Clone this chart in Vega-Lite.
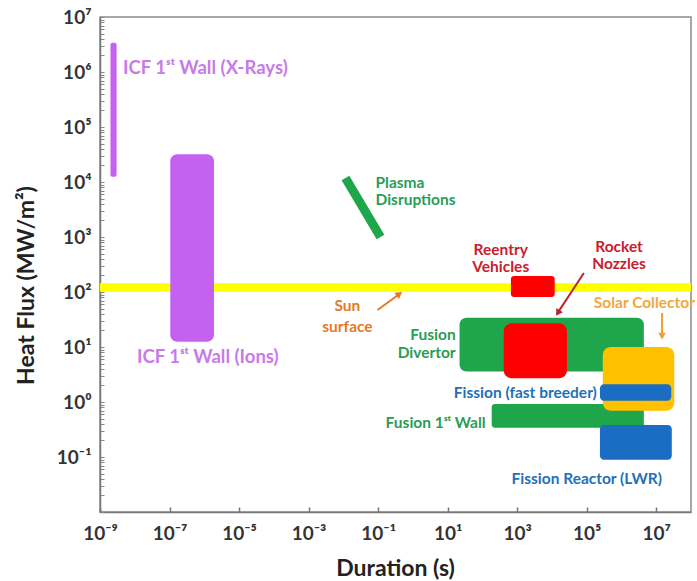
{
  "$schema": "https://vega.github.io/schema/vega-lite/v6.json",
  "width": 591,
  "height": 495,
  "autosize": {"type": "none"},
  "padding": {"left": 100, "top": 17, "right": 6, "bottom": 69},
  "background": "white",
  "config": {
    "view": {"stroke": "#8a8a8a", "strokeWidth": 1.5},
    "font": "Lato"
  },
  "datasets": {
    "regions": [
      {"name": "Sun surface", "x": 1e-9, "x2": 1e8, "y": 101, "y2": 144, "kind": "yellow"},
      {"name": "ICF 1st Wall (X-Rays)", "x": 2.0e-9, "x2": 3.0e-9, "y": 12400, "y2": 3400000, "kind": "purple"},
      {"name": "ICF 1st Wall (Ions)", "x": 1.05e-7, "x2": 1.9e-6, "y": 12.4, "y2": 32000, "kind": "purple"},
      {"name": "Fusion Divertor", "x": 22, "x2": 4400000, "y": 3.6, "y2": 34, "kind": "green"},
      {"name": "Fusion 1st Wall", "x": 185, "x2": 4400000, "y": 0.34, "y2": 0.92, "kind": "green"},
      {"name": "Reentry Vehicles", "x": 660, "x2": 12000, "y": 81, "y2": 195, "kind": "red"},
      {"name": "Rocket Nozzles", "x": 410, "x2": 27000, "y": 2.7, "y2": 27, "kind": "red"},
      {"name": "Solar Collector", "x": 290000, "x2": 33000000, "y": 0.69, "y2": 10, "kind": "gold"},
      {"name": "Fission (fast breeder)", "x": 240000, "x2": 27000000, "y": 1.05, "y2": 2.1, "kind": "blue"},
      {"name": "Fission Reactor (LWR)", "x": 240000, "x2": 28000000, "y": 0.089, "y2": 0.38, "kind": "blue"}
    ],
    "plasma": [
      {"name": "Plasma Disruptions", "x": 0.0115, "y": 11800, "x2": 0.117, "y2": 1000, "kind": "green"}
    ],
    "arrows": [
      {"name": "rocket", "x": 83000, "y": 221, "x2": 14000, "y2": 40, "kind": "arrowred"},
      {"name": "sun", "x": 0.096, "y": 47, "x2": 0.45, "y2": 96, "kind": "arroworange"},
      {"name": "solar", "x": 14700000, "y": 41.5, "x2": 14700000, "y2": 15, "kind": "arrowgold"}
    ],
    "heads": [
      {"name": "rocket", "x": 14800, "y": 41.5, "kind": "arrowred"},
      {"name": "sun", "x": 0.41, "y": 92, "kind": "arroworange"},
      {"name": "solar", "x": 14700000, "y": 15.8, "kind": "arrowgold"}
    ],
    "labelsICF": [
      {"text": ["ICF  1ˢᵗ Wall (X-Rays)"], "x": 4.6e-9, "y": 1180000, "kind": "purple"},
      {"text": ["ICF  1ˢᵗ Wall (Ions)"], "x": 1.16e-8, "y": 6.6, "kind": "purple"}
    ],
    "labelsLeft": [
      {"text": ["Plasma", "Disruptions"], "x": 0.084, "y": 9600, "kind": "green"},
      {"text": ["Solar Collector"], "x": 160000, "y": 63, "kind": "gold"}
    ],
    "labelsCenter": [
      {"text": ["Sun"], "x": 0.0131, "y": 55.6, "kind": "orange"},
      {"text": ["surface"], "x": 0.0131, "y": 23.1, "kind": "orange"},
      {"text": ["Reentry", "Vehicles"], "x": 337, "y": 580, "kind": "red"},
      {"text": ["Rocket", "Nozzles"], "x": 850000, "y": 660, "kind": "red"},
      {"text": ["Fission Reactor (LWR)"], "x": 100000, "y": 0.04, "kind": "blue"}
    ],
    "labelsRight": [
      {"text": ["Fusion", "Divertor"], "x": 17, "y": 16.5, "kind": "green"},
      {"text": ["Fission (fast breeder)"], "x": 196000, "y": 1.46, "kind": "blue"},
      {"text": ["Fusion 1ˢᵗ Wall"], "x": 124, "y": 0.415, "kind": "green"}
    ]
  },
  "encoding": {
    "x": {
      "field": "x",
      "type": "quantitative",
      "scale": {"type": "log", "domain": [1e-9, 1e8], "nice": false},
      "axis": {
        "title": "Duration (s)",
        "titleFont": "Lato",
        "titleFontSize": 23,
        "titleFontWeight": "bold",
        "titleColor": "#222",
        "titleX": 295,
        "titleY": 56,
        "titleBaseline": "middle",
        "grid": false,
        "values": [1e-9, 1e-7, 1e-5, 1e-3, 1e-1, 10, 1000, 100000, 10000000],
        "labelExpr": "'10' + (round(log(datum.value)/LN10) < 0 ? '⁻' : '') + substring('⁰¹²³⁴⁵⁶⁷⁸⁹', abs(round(log(datum.value)/LN10)), abs(round(log(datum.value)/LN10)) + 1)",
        "labelFont": "Lato",
        "labelFontSize": 19,
        "labelFontWeight": "bold",
        "labelColor": "#333",
        "labelPadding": 17,
        "labelOverlap": false,
        "labelFlush": false,
        "tickSize": -5,
        "tickColor": "#777",
        "tickWidth": 1.5,
        "domainColor": "#777",
        "domainWidth": 1.5
      }
    },
    "y": {
      "field": "y",
      "type": "quantitative",
      "scale": {"type": "log", "domain": [0.01, 10000000], "nice": false},
      "axis": {
        "title": "Heat Flux (MW/m²)",
        "titleFont": "Lato",
        "titleFontSize": 23,
        "titleFontWeight": "bold",
        "titleColor": "#222",
        "titleX": -74,
        "titleY": 268,
        "titleBaseline": "middle",
        "grid": false,
        "values": [0.01,0.02,0.03,0.04,0.05,0.06,0.07,0.08,0.09,0.1,0.2,0.3,0.4,0.5,0.6,0.7,0.8,0.9,1,2,3,4,5,6,7,8,9,10,20,30,40,50,60,70,80,90,100,200,300,400,500,600,700,800,900,1000,2000,3000,4000,5000,6000,7000,8000,9000,10000,20000,30000,40000,50000,60000,70000,80000,90000,100000,200000,300000,400000,500000,600000,700000,800000,900000,1000000,2000000,3000000,4000000,5000000,6000000,7000000,8000000,9000000,10000000],
        "labelExpr": "(datum.value < 0.015 || abs(log(datum.value)/LN10 - round(log(datum.value)/LN10)) > 0.01) ? '' : '10' + (round(log(datum.value)/LN10) < 0 ? '⁻' : '') + substring('⁰¹²³⁴⁵⁶⁷⁸⁹', abs(round(log(datum.value)/LN10)), abs(round(log(datum.value)/LN10)) + 1)",
        "labelFont": "Lato",
        "labelFontSize": 19,
        "labelFontWeight": "bold",
        "labelColor": "#333",
        "labelPadding": 13,
        "labelOverlap": false,
        "labelFlush": false,
        "tickSize": -4,
        "tickColor": "#888",
        "tickWidth": 1,
        "domainColor": "#777",
        "domainWidth": 1.5
      }
    }
  },
  "layer": [
    {
      "data": {"name": "regions"},
      "transform": [{"filter": "datum.name == 'Sun surface'"}],
      "mark": {"type": "rect", "cornerRadius": 0},
      "encoding": {
        "x2": {"field": "x2"},
        "y2": {"field": "y2"},
        "fill": {"field": "kind", "type": "nominal", "legend": null,
          "scale": {"domain": ["purple","yellow","green","red","gold","blue","arrowred","arroworange","arrowgold"],
                    "range": ["#C561F0","#FFFF00","#1FA64A","#FF0000","#FFC000","#1A6DC2","#B8262B","#E57A25","#F0A030"]}}
      }
    },
    {
      "data": {"name": "regions"},
      "transform": [{"filter": "datum.name == 'ICF 1st Wall (X-Rays)'"}],
      "mark": {"type": "rect", "cornerRadius": 2},
      "encoding": {
        "x2": {"field": "x2"},
        "y2": {"field": "y2"},
        "fill": {"field": "kind", "type": "nominal", "legend": null}
      }
    },
    {
      "data": {"name": "regions"},
      "transform": [{"filter": "datum.name == 'ICF 1st Wall (Ions)' || datum.name == 'Fusion Divertor'"}],
      "mark": {"type": "rect", "cornerRadius": 7},
      "encoding": {
        "x2": {"field": "x2"},
        "y2": {"field": "y2"},
        "fill": {"field": "kind", "type": "nominal", "legend": null}
      }
    },
    {
      "data": {"name": "regions"},
      "transform": [{"filter": "datum.name == 'Fusion 1st Wall' || datum.name == 'Reentry Vehicles'"}],
      "mark": {"type": "rect", "cornerRadius": 3},
      "encoding": {
        "x2": {"field": "x2"},
        "y2": {"field": "y2"},
        "fill": {"field": "kind", "type": "nominal", "legend": null}
      }
    },
    {
      "data": {"name": "regions"},
      "transform": [{"filter": "datum.name == 'Rocket Nozzles' || datum.name == 'Solar Collector'"}],
      "mark": {"type": "rect", "cornerRadius": 8},
      "encoding": {
        "x2": {"field": "x2"},
        "y2": {"field": "y2"},
        "fill": {"field": "kind", "type": "nominal", "legend": null}
      }
    },
    {
      "data": {"name": "regions"},
      "transform": [{"filter": "datum.name == 'Fission (fast breeder)' || datum.name == 'Fission Reactor (LWR)'"}],
      "mark": {"type": "rect", "cornerRadius": 4},
      "encoding": {
        "x2": {"field": "x2"},
        "y2": {"field": "y2"},
        "fill": {"field": "kind", "type": "nominal", "legend": null}
      }
    },
    {
      "data": {"name": "plasma"},
      "mark": {"type": "rule", "strokeWidth": 9, "strokeCap": "butt"},
      "encoding": {
        "x2": {"field": "x2"},
        "y2": {"field": "y2"},
        "stroke": {"field": "kind", "type": "nominal", "legend": null,
          "scale": {"domain": ["green","arrowred","arroworange","arrowgold"],
                    "range": ["#1FA64A","#B8262B","#E57A25","#F0A030"]}}
      }
    },
    {
      "data": {"name": "arrows"},
      "mark": {"type": "rule", "strokeWidth": 2},
      "encoding": {
        "x2": {"field": "x2"},
        "y2": {"field": "y2"},
        "stroke": {"field": "kind", "type": "nominal", "legend": null}
      }
    },
    {
      "data": {"name": "heads"},
      "transform": [{"filter": "datum.name == 'rocket'"}],
      "mark": {"type": "point", "shape": "triangle-up", "filled": true, "size": 60, "angle": 212, "opacity": 1},
      "encoding": {
        "fill": {"field": "kind", "type": "nominal", "legend": null}
      }
    },
    {
      "data": {"name": "heads"},
      "transform": [{"filter": "datum.name == 'sun'"}],
      "mark": {"type": "point", "shape": "triangle-up", "filled": true, "size": 60, "angle": 54, "opacity": 1},
      "encoding": {
        "fill": {"field": "kind", "type": "nominal", "legend": null}
      }
    },
    {
      "data": {"name": "heads"},
      "transform": [{"filter": "datum.name == 'solar'"}],
      "mark": {"type": "point", "shape": "triangle-up", "filled": true, "size": 60, "angle": 180, "opacity": 1},
      "encoding": {
        "fill": {"field": "kind", "type": "nominal", "legend": null}
      }
    },
    {
      "data": {"name": "labelsICF"},
      "mark": {"type": "text", "align": "left", "baseline": "middle", "font": "Lato", "fontWeight": "bold", "fontSize": 18.5},
      "encoding": {
        "text": {"field": "text"},
        "color": {"field": "kind", "type": "nominal", "legend": null,
          "scale": {"domain": ["purple","green","red","orange","gold","blue"],
                    "range": ["#C67BE8","#2A9D57","#C8202C","#E57A25","#F0A93A","#2470B8"]}}
      }
    },
    {
      "data": {"name": "labelsLeft"},
      "mark": {"type": "text", "align": "left", "baseline": "middle", "font": "Lato", "fontWeight": "bold", "fontSize": 15.5, "lineHeight": 17.5},
      "encoding": {
        "text": {"field": "text"},
        "color": {"field": "kind", "type": "nominal", "legend": null}
      }
    },
    {
      "data": {"name": "labelsCenter"},
      "mark": {"type": "text", "align": "center", "baseline": "middle", "font": "Lato", "fontWeight": "bold", "fontSize": 15.5, "lineHeight": 17},
      "encoding": {
        "text": {"field": "text"},
        "color": {"field": "kind", "type": "nominal", "legend": null}
      }
    },
    {
      "data": {"name": "labelsRight"},
      "mark": {"type": "text", "align": "right", "baseline": "middle", "font": "Lato", "fontWeight": "bold", "fontSize": 15.5, "lineHeight": 18},
      "encoding": {
        "text": {"field": "text"},
        "color": {"field": "kind", "type": "nominal", "legend": null}
      }
    }
  ]
}
